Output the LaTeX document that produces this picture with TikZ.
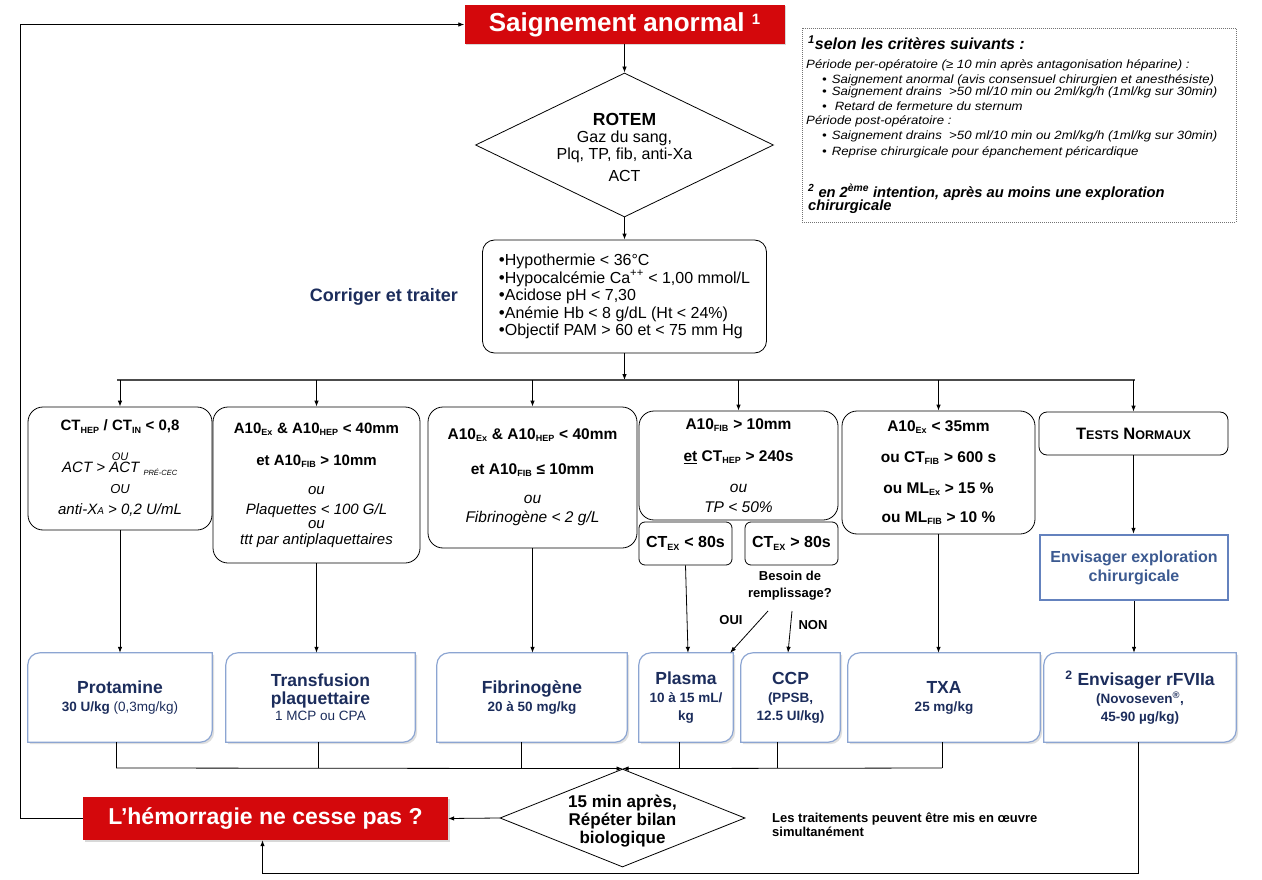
\documentclass[tikz,border=0pt]{standalone}
\usepackage{fontspec}
\setmainfont{Liberation Sans}
\newfontfamily\notefont[FakeStretch=1.1]{Liberation Sans}
\usetikzlibrary{shapes.geometric,arrows.meta,shadows,backgrounds}
\definecolor{redbox}{RGB}{212,8,12}
\definecolor{navyt}{RGB}{28,45,92}
\definecolor{envtext}{RGB}{60,90,145}
\definecolor{envborder}{RGB}{100,130,190}
\definecolor{treatborder}{RGB}{140,165,210}
\newcommand\fsz[2]{\fontsize{#1}{#2}\selectfont}
\newcommand\sbx[1]{\textsubscript{\fsz{9}{9}#1}}
\newcommand\bulx{{\fsz{17}{17}•}}
\newcommand\tframe[1]{\path[tframestyle] (#1.south west) -- ([yshift=-12pt]#1.north west) arc[start angle=180,end angle=90,radius=12pt] -- (#1.north east) -- ([yshift=12pt]#1.south east) arc[start angle=0,end angle=-90,radius=12pt] -- cycle;}
\begin{document}
\begin{tikzpicture}[x=1pt,y=1pt,
 ln/.style={draw=black, line width=0.8pt},
 arr/.style={ln, -{Latex[length=6pt,width=4.5pt]}},
 crit/.style={draw=black, line width=0.8pt, rounded corners=15pt, align=center, inner sep=0pt},
 treat/.style={inner sep=0pt, align=center, text=navyt, font=\bfseries\fsz{17.5}{18}},
 tframestyle/.style={draw=treatborder, line width=1.2pt, fill=white, drop shadow={shadow xshift=2pt, shadow yshift=-2pt, opacity=0.25}},
 redt/.style={fill=redbox, text=white, inner sep=0pt, font=\bfseries, drop shadow={shadow xshift=1.5pt, shadow yshift=-1.5pt, opacity=0.3}},
 txt/.style={inner sep=0pt},
 note/.style={txt, anchor=base west, font=\notefont\itshape\fsz{12}{14}},
]
\useasboundingbox (0,0) rectangle (1262,-880);
\begin{scope}[on background layer]\fill[white] (0,0) rectangle (1262,-880);\end{scope}

% top
\node[redt, minimum width=320pt, minimum height=39pt] (sa) at (624.5,-24.5) {\fsz{26}{28}Saignement anormal \raisebox{7pt}{\fsz{15}{15}1}};
\node[diamond, draw, line width=0.8pt, minimum width=298pt, minimum height=144pt, inner sep=0pt] (rotem) at (624.5,-145) {};
\node[txt, align=center, font=\fsz{16}{17}] (rotemtxt) at (624.5,-147) {{\bfseries\fsz{17.5}{18}ROTEM}\\Gaz du sang,\\Plq, TP, fib, anti-Xa\\[5pt]ACT};
\node[crit, rounded corners=12pt, minimum width=284pt, minimum height=113pt, align=left, font=\fsz{16}{17.5}] (corr) at (624.5,-296.5) {\bulx Hypothermie < 36°C\\\bulx Hypocalcémie Ca\textsuperscript{++} < 1,00 mmol/L\\\bulx Acidose pH < 7,30\\\bulx Anémie Hb < 8 g/dL (Ht < 24\%)\\\bulx Objectif PAM > 60 et < 75 mm Hg};
\node[txt, text=navyt, font=\bfseries\fsz{18}{20}] (corrlbl) at (384,-297) {Corriger et traiter};

% notes
\node[draw=black!55, dash pattern=on 1pt off 1pt, minimum width=434pt, minimum height=194pt, inner sep=0pt] (notes) at (1019,-125) {};
\node[note, font=\bfseries\itshape\fsz{16}{18}] (n0) at (808,-50) {\textsuperscript{1}selon les critères suivants :};
\node[note] (n1) at (806,-68.5) {Période per-opératoire (≥ 10 min après antagonisation héparine) :};
\node[note] (n2) at (822,-84) {•\hspace{5pt}Saignement anormal (avis consensuel chirurgien et anesthésiste)};
\node[note] (n3) at (822,-95.5) {•\hspace{5pt}Saignement drains\ \ >50 ml/10 min ou 2ml/kg/h (1ml/kg sur 30min)};
\node[note] (n4) at (822,-110.5) {•\hspace{8pt}Retard de fermeture du sternum};
\node[note] (n5) at (806,-125) {Période post-opératoire :};
\node[note] (n6) at (822,-140) {•\hspace{5pt}Saignement drains\ \ >50 ml/10 min ou 2ml/kg/h (1ml/kg sur 30min)};
\node[note] (n7) at (822,-155.5) {•\hspace{5pt}Reprise chirurgicale pour épanchement péricardique};
\node[note, font=\bfseries\itshape\fsz{14.7}{17}] (n8) at (808,-197) {\textsuperscript{2} en 2\textsuperscript{ème} intention, après au moins une exploration};
\node[note, font=\bfseries\itshape\fsz{14.7}{17}] (n9) at (808,-211) {chirurgicale};

% criteria
\coordinate (barL) at (117,-380);
\coordinate (barR) at (1135,-380);
\node[crit, minimum width=184pt, minimum height=123pt, font=\fsz{15}{21}] (c1) at (120,-468.5) {{\bfseries CT\sbx{HEP} / CT\sbx{IN} < 0,8}\\[9pt]{\itshape\fsz{11}{11}OU}\\[-9pt]{\itshape ACT > ACT \sbx{\fsz{7.5}{8}PRÉ-CEC}}\\{\itshape\fsz{13}{13}OU}\\{\itshape anti-X{\fsz{10}{10}A} > 0,2 U/mL}};
\node[crit, minimum width=207pt, minimum height=156pt, font=\fsz{15}{16}] (c2) at (316.5,-485) {{\bfseries A10\sbx{Ex} \& A10\sbx{HEP} < 40mm}\\[16pt]{\bfseries et A10\sbx{FIB} > 10mm}\\[13pt]{\itshape ou}\\[4pt]{\itshape Plaquettes < 100 G/L}\\[-2pt]{\itshape ou}\\{\itshape ttt par antiplaquettaires}};
\node[crit, minimum width=209pt, minimum height=141pt, font=\fsz{15.5}{16}] (c3) at (532.5,-477.5) {{\bfseries A10\sbx{Ex} \& A10\sbx{HEP} < 40mm}\\[19pt]{\bfseries et A10\sbx{FIB} ≤ 10mm}\\[13pt]{\itshape ou}\\[3pt]{\itshape Fibrinogène < 2 g/L}};
\node[crit, minimum width=199pt, minimum height=109pt, font=\fsz{15.5}{16}] (c4) at (738.5,-465.5) {{\bfseries A10\sbx{FIB} > 10mm}\\[16pt]{\bfseries \underline{et} CT\sbx{HEP} > 240s}\\[15pt]{\itshape ou}\\[4pt]{\itshape TP < 50\%}};
\node[crit, rounded corners=6pt, minimum width=93pt, minimum height=43pt, font=\bfseries\fsz{16}{17}] (c4a) at (685.5,-543.5) {CT\sbx{EX} < 80s};
\node[crit, rounded corners=6pt, minimum width=93pt, minimum height=43pt, font=\bfseries\fsz{16}{17}] (c4b) at (791.5,-543.5) {CT\sbx{EX} > 80s};
\node[txt, align=center, font=\bfseries\fsz{13}{17}] (besoin) at (790,-586) {Besoin de\\remplissage?};
\node[crit, minimum width=193pt, minimum height=123pt, font=\bfseries\fsz{15.5}{16}] (c5) at (938.5,-472.5) {A10\sbx{Ex} < 35mm\\[15pt]ou CT\sbx{FIB} > 600 s\\[15pt]ou ML\sbx{Ex} > 15 \%\\[13pt]ou ML\sbx{FIB} > 10 \%};
\node[crit, rounded corners=8pt, minimum width=189pt, minimum height=43pt, font=\bfseries\fsz{16.5}{17}] (c6) at (1133.5,-433.5) {T{\fsz{12.5}{13}ESTS} N{\fsz{12.5}{13}ORMAUX}};
\node[draw=envborder, line width=2.5pt, minimum width=188pt, minimum height=65pt, inner sep=0pt, align=center, text=envtext, font=\bfseries\fsz{16}{19}] (env) at (1134,-567.5) {Envisager exploration\\chirurgicale};

% treatments
\node[treat, minimum width=184pt, minimum height=89pt] (t1) at (120,-697.5) {Protamine\\{\fsz{13.5}{15}30 U/kg \mdseries(0,3mg/kg)}};
\node[treat, minimum width=189pt, minimum height=89pt] (t2) at (320.5,-697.5) {Transfusion\\plaquettaire\\[-2pt]{\mdseries\fsz{13.5}{15}1 MCP ou CPA}};
\node[treat, minimum width=190pt, minimum height=89pt] (t3) at (532,-697.5) {Fibrinogène\\{\fsz{13.5}{15}20 à 50 mg/kg}};
\node[treat, minimum width=94pt, minimum height=89pt] (t4) at (686,-697.5) {Plasma\\{\fsz{13.5}{15}10 à 15 mL/}\\{\fsz{13.5}{15}kg}};
\node[treat, minimum width=99pt, minimum height=89pt] (t5) at (790.5,-697.5) {CCP\\{\fsz{13.5}{15}(PPSB,}\\{\fsz{13.5}{15}12.5 UI/kg)}};
\node[treat, minimum width=192pt, minimum height=89pt] (t6) at (944,-697.5) {TXA\\{\fsz{13.5}{15}25 mg/kg}};
\node[treat, minimum width=192pt, minimum height=89pt] (t7) at (1140,-697.5) {\textsuperscript{2} Envisager rFVIIa\\{\fsz{13.5}{15}(Novoseven\textsuperscript{®},}\\{\fsz{13.5}{15}45-90 µg/kg)}};
\begin{scope}[on background layer]
\foreach \n in {t1,t2,t3,t4,t5,t6,t7} {\tframe{\n}}
\end{scope}

% bottom
\node[diamond, draw, line width=0.8pt, minimum width=245pt, minimum height=98pt, inner sep=0pt] (hd) at (622.5,-818) {};
\node[txt, align=center, font=\bfseries\fsz{17}{18}] (hdtxt) at (622.5,-821) {15 min après,\\Répéter bilan\\biologique};
\node[redt, minimum width=365pt, minimum height=43pt] (hemo) at (265.5,-818.5) {\fsz{23}{26}L’hémorragie ne cesse pas ?};
\node[txt, anchor=north west, align=left, font=\bfseries\fsz{13}{14}] (simul) at (772,-813) {Les traitements peuvent être mis en œuvre\\simultanément};

% connectors
\draw[arr] (sa.south) -- (rotem.north);
\draw[arr] (rotem.south) -- (corr.north);
\draw[arr] (corr.south) -- (corr.south |- barL);
\draw[line width=1.6pt, draw=black!70] (barL) -- (barR);
\foreach \c in {c1,c2,c3,c4,c5,c6} {\draw[arr] (\c.north |- barL) -- (\c.north);}
\draw[arr] (c1.south) -- (c1.south |- t1.north);
\draw[arr] (c2.south) -- (c2.south |- t2.north);
\draw[arr] (c3.south) -- (c3.south |- t3.north);
\draw[arr] (c4a.south) -- ([xshift=2pt]t4.north);
\coordinate (ouiS) at (768,-611);
\coordinate (nonS) at (792,-611);
\draw[arr] (ouiS) -- ([xshift=-3pt]t4.north east);
\draw[arr] (nonS) -- ([xshift=-2.5pt]t5.north);
\node[txt, font=\bfseries\fsz{13}{14}] (oui) at (731,-620) {OUI};
\node[txt, font=\bfseries\fsz{13}{14}] (non) at (813,-625) {NON};
\draw[arr] (c5.south) -- (c5.south |- t6.north);
\draw[arr] (c6.south) -- (c6.south |- env.north);
\draw[arr] (env.south) -- (env.south |- t7.north);

\coordinate (coll) at (0,-768);
\foreach \t/\dx in {t1/-4,t2/-2,t3/-11,t4/-7,t5/-13,t6/-2} {\draw[ln] ([xshift=\dx pt]\t.south) -- ([xshift=\dx pt]\t.south |- coll);}
\draw[arr] ([xshift=-4pt]t1.south |- coll) -- (hd.north);
\draw[arr] ([xshift=-2pt]t6.south |- coll) -- (hd.north);
\draw[arr] (hd.west) -- (hemo.east);
\coordinate (bot) at (0,-873);
\draw[arr] ([xshift=-2pt]t7.south) -- ([xshift=-2pt]t7.south |- bot) -| ([xshift=-3pt]hemo.south);
\coordinate (loop) at (20,-818);
\draw[arr] (hemo.west) -- (hemo.west -| loop) |- (sa.west);
\end{tikzpicture}
\end{document}
